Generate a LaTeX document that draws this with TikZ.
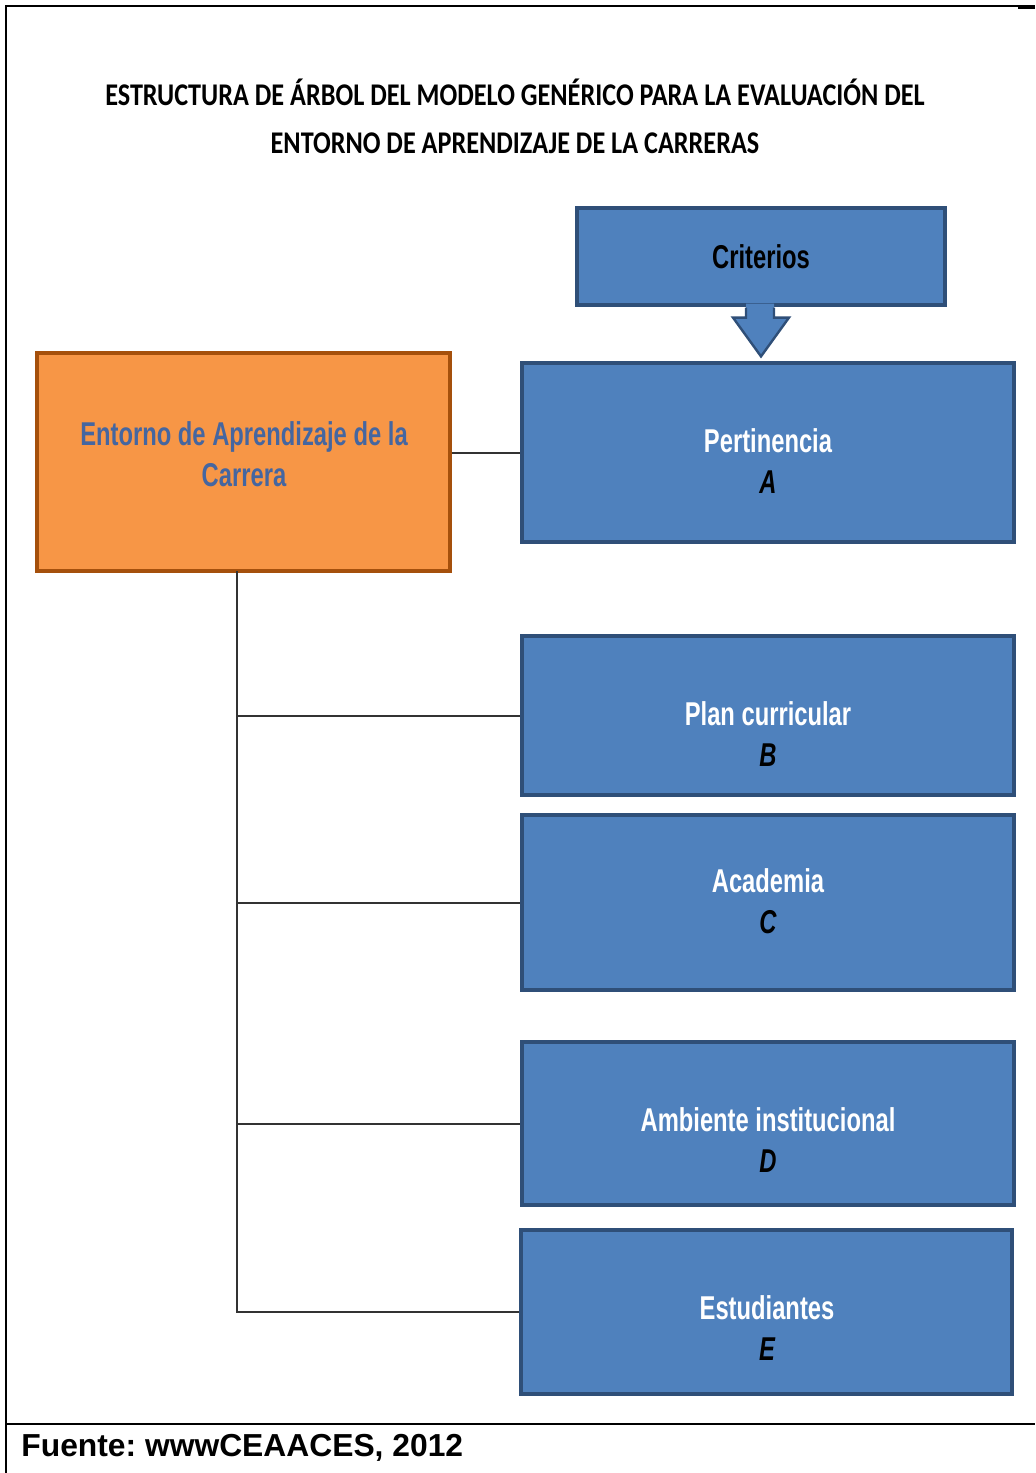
\documentclass[tikz,border=0pt]{standalone}
\usepackage{fontspec}
\usetikzlibrary{calc}
\setmainfont{Liberation Sans}
\newfontfamily\narrowfont{Liberation Sans}[FakeStretch=0.72]
\newfontfamily\titlefont{Carlito}[FakeStretch=0.83]
\definecolor{boxblue}{HTML}{4F81BD}
\definecolor{boxedge}{HTML}{2F4F78}
\definecolor{boxorange}{HTML}{F79646}
\definecolor{orangeedge}{HTML}{A5500C}
\definecolor{entornotext}{HTML}{4566A0}
\definecolor{linegray}{HTML}{333333}
\frenchspacing

\begin{document}
\begin{tikzpicture}[x=0.5pt, y=-0.5pt,
  bluebox/.style={rectangle, fill=boxblue, draw=boxedge, line width=1.6pt, minimum width=246pt},
  boxtext/.style={align=center, text=white, font=\narrowfont\bfseries\fontsize{16.5pt}{20.5pt}\selectfont},
  branch/.style={draw=linegray, line width=1pt}]
\useasboundingbox (0,0) rectangle (1035,1473);
% frame
\draw [line width=1pt] (6,1473) -- (6,6) -- (1035,6);
\draw [line width=2pt] (1018,7) -- (1035,7);
\draw [line width=1pt] (6,1424) -- (1035,1424);
% title
\node (title) at (515,116) [align=center, font=\titlefont\bfseries\fontsize{15.8pt}{24pt}\selectfont]
  {ESTRUCTURA DE ÁRBOL DEL MODELO GENÉRICO PARA LA EVALUACIÓN DEL\\ENTORNO DE APRENDIZAJE DE LA CARRERAS};
% criterios
\node [bluebox, minimum width=184pt, minimum height=48.5pt] (crit) at (761,256.5) {};
\node [boxtext, text=black] (critT) at (crit.center) {Criterios};
% boxes
\node [rectangle, fill=boxorange, draw=orangeedge, line width=1.6pt, minimum width=206.5pt, minimum height=109pt] (entorno) at (243.5,462) {};
\node [boxtext, text=entornotext] (entornoT) at (244,454) {Entorno de Aprendizaje de la\\Carrera};
\node [bluebox, minimum height=89.5pt] (pert) at (768,452.5) {};
\node [boxtext] (pertT) at (768,461.5) {Pertinencia\\\textcolor{black}{\itshape A}};
\node [bluebox, minimum height=79.5pt] (plan) at (768,715.5) {};
\node [boxtext] (planT) at (768,734.5) {Plan curricular\\\textcolor{black}{\itshape B}};
\node [bluebox, minimum height=87.5pt] (acad) at (768,902.5) {};
\node [boxtext] (acadT) at (768,901) {Academia\\\textcolor{black}{\itshape C}};
\node [bluebox, minimum height=81.5pt] (amb) at (768,1123.5) {};
\node [boxtext] (ambT) at (768,1140) {Ambiente institucional\\\textcolor{black}{\itshape D}};
\node [bluebox, minimum width=245.5pt, minimum height=82pt] (estud) at (766.5,1312) {};
\node [boxtext] (estudT) at (767,1328) {Estudiantes\\\textcolor{black}{\itshape E}};
% arrow
\coordinate (tip) at ($(crit.south |- pert.north)+(0,-5)$);
\fill [boxblue] ($(crit.south)+(-15,-3)$) -- ($(crit.south)+(-15,11)$) -- ($(crit.south)+(-28,11)$) -- (tip) -- ($(crit.south)+(28,11)$) -- ($(crit.south)+(13,11)$) -- ($(crit.south)+(13,-3)$) -- cycle;
\draw [boxedge, line width=1.2pt, line join=miter] ($(crit.south)+(-15,1)$) -- ($(crit.south)+(-15,11)$) -- ($(crit.south)+(-28,11)$) -- (tip) -- ($(crit.south)+(28,11)$) -- ($(crit.south)+(13,11)$) -- ($(crit.south)+(13,1)$);
% connectors
\coordinate (trunk) at (237,571);
\draw [branch] (pert.west -| entorno.east) -- (pert.west);
\draw [branch] (trunk) -- (estud.west -| trunk) -- (estud.west);
\draw [branch] (plan.west -| trunk) -- (plan.west);
\draw [branch] (acad.west -| trunk) -- (acad.west);
\draw [branch] (amb.west -| trunk) -- (amb.west);
% source
\node (fuente) at (21,1456) [anchor=base west, inner sep=0pt, font=\bfseries\fontsize{15.9pt}{18pt}\selectfont] {Fuente: wwwCEAACES, 2012};
\end{tikzpicture}
\end{document}
